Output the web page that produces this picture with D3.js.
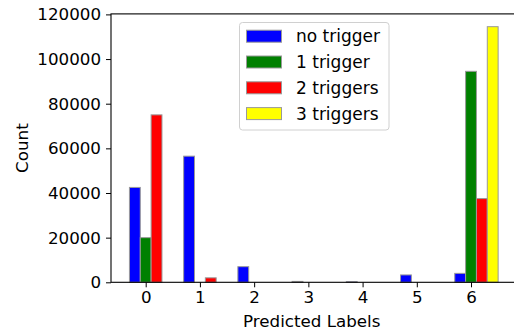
<!DOCTYPE html>
<html>
<head>
<meta charset="utf-8">
<script src="https://cdn.jsdelivr.net/npm/d3@7"></script>
<style>
  html, body { margin: 0; padding: 0; background: #fff; }
  svg { display: block; font-family: "DejaVu Sans", sans-serif; }
</style>
</head>
<body>
<div id="chart"></div>
<script>
// predicted label buckets along the x axis
const labels = [0, 1, 2, 3, 4, 5, 6];

// counts per trigger setting
const noTrigger = [42500, 56500, 7000, 400, 300, 3300, 4000];
const oneTrigger = [20000, 0, 0, 0, 0, 0, 94500];
const twoTriggers = [75000, 2000, 0, 0, 0, 0, 37500];
const threeTriggers = [0, 0, 0, 0, 0, 0, 114500];

const seriesNames = ['no trigger', '1 trigger', '2 triggers', '3 triggers'];
const seriesColors = ['blue', 'green', 'red', 'yellow'];
const seriesValues = [noTrigger, oneTrigger, twoTriggers, threeTriggers];

const yTicks = [0, 20000, 40000, 60000, 80000, 100000, 120000];

const W = 514, H = 335;
const barW = 0.2;
const offsets = [-0.2, 0, 0.2, 0.4];

const svg = d3.select('#chart').append('svg')
.attr('width', W)
.attr('height', H);

svg.append('rect').attr('width', W).attr('height', H).attr('fill', '#fff');

// mimic matplotlib's 5% auto margins; right spine falls just off the canvas
const xLo = -0.3, xHi = 6.5;
const pad = (xHi - xLo) * 0.05;
const x = d3.scaleLinear().domain([xLo - pad, xHi + pad]).range([111, 111 + (xHi - xLo + 2 * pad) * 54.22]);

const yMax = d3.max(seriesValues.flat()) * 1.05;
const y = d3.scaleLinear().domain([0, yMax]).range([282.3, 13.9]);

const plot = svg.append('g');

seriesValues.forEach((vals, si) => {
    plot.selectAll(null)
    .data(vals)
    .enter()
    .append('rect')
    .attr('x', (d, i) => x(labels[i] + offsets[si] - barW / 2))
    .attr('y', (d) => y(d))
    .attr('width', x(barW) - x(0))
    .attr('height', (d) => y(0) - y(d))
    .attr('fill', seriesColors[si])
    .attr('stroke', '#999')
    .attr('stroke-width', 1);
});

// spines
const [px0, px1] = x.range();
const [py0, py1] = y.range();
svg.append('rect')
.attr('x', px0).attr('y', py1)
.attr('width', px1 - px0).attr('height', py0 - py1)
.attr('fill', 'none')
.attr('stroke', '#000')
.attr('stroke-width', 1.1);

const xAxis = svg.append('g')
.attr('transform', `translate(0,${py0})`)
.call(d3.axisBottom(x).tickValues(labels).tickFormat(d3.format('d')).tickSize(5).tickPadding(4));
xAxis.select('.domain').remove();

const yAxis = svg.append('g')
.attr('transform', `translate(${px0},0)`)
.call(d3.axisLeft(y).tickValues(yTicks).tickFormat(d3.format('d')).tickSize(5).tickPadding(5));
yAxis.select('.domain').remove();

svg.selectAll('.tick text')
.attr('font-family', '"DejaVu Sans", sans-serif')
.attr('font-size', 16.7)
.attr('fill', '#000');
svg.selectAll('.tick line').attr('stroke', '#000').attr('stroke-width', 1);

svg.append('text')
.attr('x', (px0 + px1) / 2 - 2)
.attr('y', 327)
.attr('text-anchor', 'middle')
.attr('font-size', 16.7)
.text('Predicted Labels');

svg.append('text')
.attr('transform', `translate(28,${(py0 + py1) / 2}) rotate(-90)`)
.attr('text-anchor', 'middle')
.attr('font-size', 16.7)
.text('Count');

// legend
const legend = svg.append('g');
legend.append('rect')
.attr('x', 239.5).attr('y', 22.5)
.attr('width', 149.5).attr('height', 107.5)
.attr('rx', 3)
.attr('fill', 'rgba(255,255,255,0.8)')
.attr('stroke', '#d0d0d0')
.attr('stroke-width', 1);

seriesNames.forEach((name, i) => {
    const cy = 36.2 + i * 25.8;
    legend.append('rect')
    .attr('x', 246.5).attr('y', cy - 6)
    .attr('width', 35).attr('height', 12)
    .attr('fill', seriesColors[i])
    .attr('stroke', '#999')
    .attr('stroke-width', 1);
    legend.append('text')
    .attr('x', 296)
    .attr('y', cy + 6)
    .attr('font-size', 17)
    .text(name);
});
</script>
</body>
</html>
